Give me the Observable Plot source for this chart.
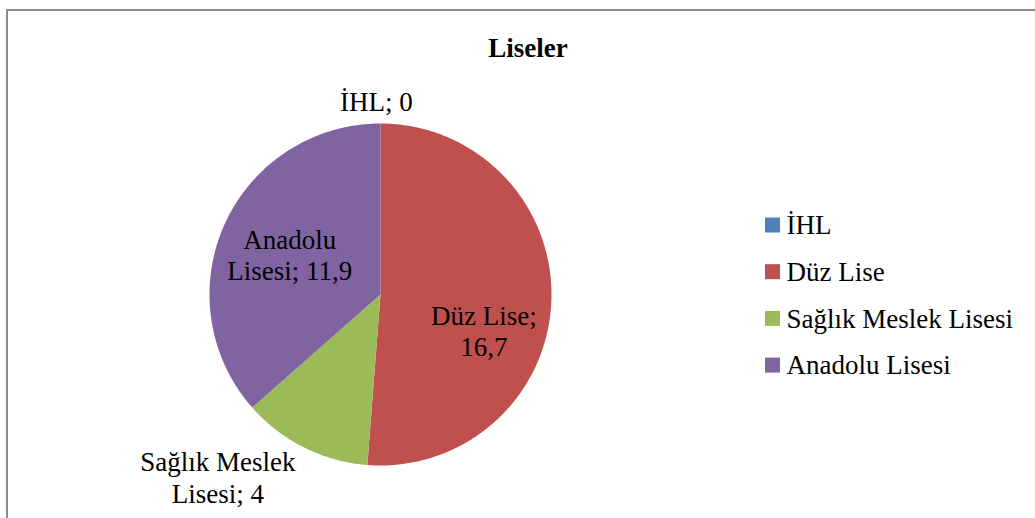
<!DOCTYPE html>
<html><head><meta charset="utf-8">
<script src="https://cdn.jsdelivr.net/npm/d3@7"></script>
<script src="https://cdn.jsdelivr.net/npm/@observablehq/plot@0.6"></script>
<style>html,body{margin:0;padding:0;background:#fff;overflow:hidden}</style>
</head><body><div id="chart"></div>
<script>
// ---- data ----
const title = "Liseler";
const categories = ["İHL", "Düz Lise", "Sağlık Meslek Lisesi", "Anadolu Lisesi"];
const values = [0, 16.7, 4, 11.9];
const colors = ["#4F81BD", "#C0504D", "#9BBB59", "#8064A2"];
const labelLines = [["İHL; 0"], ["Düz Lise;", "16,7"], ["Sağlık Meslek", "Lisesi; 4"], ["Anadolu", "Lisesi; 11,9"]];

// ---- layout ----
const W = 1035, H = 518;
const cx = 380, cy = 294, R = 171;
const labelRadius = [1.13, 0.64, 1.43, 0.58];
const labelAngle = [-1.2, 109.3, 221.7, 293.7];
const legendX = 765, legendY0 = 225, legendStep = 46.7, sq = 15;
const font = "'Liberation Serif','Times New Roman',serif";
const fs = 27;

const total = d3.sum(values);
const pt = (deg, r) => [cx + r * Math.sin(deg * Math.PI / 180), cy - r * Math.cos(deg * Math.PI / 180)];

// wedge outlines
const wedgePts = [];
let start = 0;
categories.forEach((cat, i) => {
  const sweep = values[i] / total * 360;
  const end = start + sweep;
  if (sweep > 0) {
    wedgePts.push({cat, x: cx, y: cy});
    const n = Math.max(2, Math.ceil(sweep * 2));
    for (let k = 0; k <= n; k++) {
      const [x, y] = pt(start + sweep * k / n, R);
      wedgePts.push({cat, x, y});
    }
    wedgePts.push({cat, x: cx, y: cy});
  }
  start = end;
});

const labels = categories.map((cat, i) => {
  const [x, y] = pt(labelAngle[i], labelRadius[i] * R);
  return {x, y, text: labelLines[i].join("\n")};
});

const legend = categories.map((cat, i) => ({cat, y: legendY0 + i * legendStep}));

const chart = Plot.plot({
  width: W, height: H, margin: 0,
  x: {domain: [0, W], range: [0, W], axis: null},
  y: {domain: [0, H], range: [0, H], axis: null},
  color: {domain: categories, range: colors},
  style: {fontFamily: font, background: "#fff", color: "#000"},
  marks: [
    Plot.rect([0], {x1: () => 7, y1: () => 10, x2: () => W + 20, y2: () => H + 20, fill: "none", stroke: "#8c8c8c", strokeWidth: 2}),
    Plot.line(wedgePts, {x: "x", y: "y", z: "cat", fill: "cat", stroke: "none", curve: "linear"}),
    Plot.text([title], {frameAnchor: "top", dx: 10, dy: 48, lineAnchor: "middle", fontSize: fs, fontWeight: "bold", fill: "#000"}),
    Plot.text(labels, {x: "x", y: "y", text: "text", fontSize: fs, lineHeight: 1.15, textAnchor: "middle", lineAnchor: "middle", fill: "#000"}),
    Plot.rect(legend, {x1: () => legendX, x2: () => legendX + sq, y1: d => d.y - sq / 2, y2: d => d.y + sq / 2, fill: "cat"}),
    Plot.text(legend, {x: () => legendX + sq + 6, y: "y", text: "cat", textAnchor: "start", lineAnchor: "middle", fontSize: fs, fill: "#000"})
  ]
});
document.getElementById("chart").appendChild(chart);
</script>
</body></html>
